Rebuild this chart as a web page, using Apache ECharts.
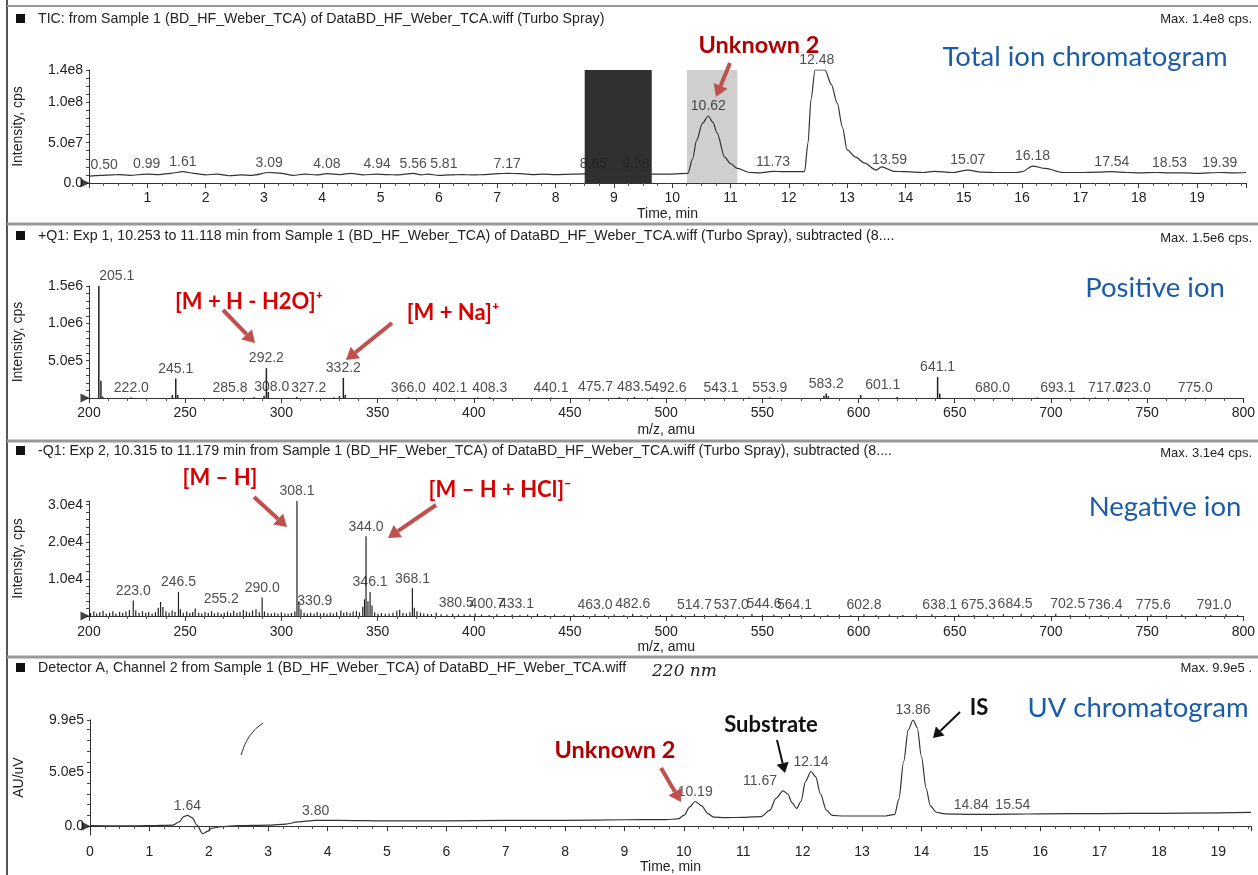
<!DOCTYPE html>
<html><head><meta charset="utf-8">
<script src="https://cdn.jsdelivr.net/npm/echarts@6/dist/echarts.min.js"></script>
<style>html,body{margin:0;padding:0;background:#fff}#c{width:1258px;height:875px}</style>
</head><body><div id="c"></div>
<script>
// ---------------- DATA ----------------
// TIC: [time (min), intensity (x1e7 cps)]
const ticData = [[0.00,0.85],[0.20,0.95],[0.40,1.00],[0.50,1.05],[0.70,0.95],[0.99,1.10],[1.20,1.05],[1.40,1.20],[1.61,1.40],[1.80,1.20],[2.00,1.00],[2.20,1.10],[2.40,0.90],[2.60,1.00],[2.80,0.95],[3.09,1.30],[3.30,1.20],[3.50,0.95],[3.70,1.10],[3.90,1.00],[4.08,1.15],[4.30,1.05],[4.50,1.20],[4.70,1.00],[4.94,1.10],[5.10,1.05],[5.30,1.00],[5.56,1.20],[5.70,1.00],[5.81,1.10],[6.00,0.95],[6.20,1.00],[6.40,1.05],[6.60,1.00],[6.80,1.05],[7.00,1.15],[7.17,1.20],[7.40,1.15],[7.60,1.05],[7.80,1.10],[8.00,1.05],[8.30,1.10],[8.65,1.15],[9.00,1.10],[9.38,1.20],[9.70,1.10],[10.00,1.10],[10.27,1.20],[10.35,3.00],[10.42,5.30],[10.52,7.40],[10.62,8.30],[10.70,7.50],[10.77,6.20],[10.90,3.20],[11.00,2.40],[11.12,1.80],[11.33,1.30],[11.50,1.25],[11.73,1.45],[11.90,1.40],[12.10,1.40],[12.27,1.40],[12.33,5.00],[12.38,10.30],[12.45,14.00],[12.55,14.00],[12.62,14.00],[12.73,12.20],[12.83,9.90],[12.92,6.90],[13.00,4.10],[13.15,3.20],[13.29,2.50],[13.50,1.60],[13.59,2.00],[13.80,1.45],[14.00,1.40],[14.30,1.30],[14.50,1.45],[14.80,1.30],[15.07,1.60],[15.30,1.35],[15.60,1.30],[15.90,1.30],[16.00,1.40],[16.18,2.10],[16.40,1.80],[16.70,1.30],[17.00,1.30],[17.30,1.35],[17.54,1.40],[17.80,1.30],[18.00,1.25],[18.30,1.30],[18.53,1.25],[18.80,1.25],[19.00,1.20],[19.39,1.30],[19.60,1.25],[19.84,1.30]];
const ticPeakLabels = [0.50,0.99,1.61,3.09,4.08,4.94,5.56,5.81,7.17,8.65,9.38,10.62,11.73,12.48,13.59,15.07,16.18,17.54,18.53,19.39];
const ticPeakHeights = [1.05,1.10,1.40,1.30,1.15,1.10,1.20,1.10,1.20,1.15,1.20,8.30,1.45,14.00,1.60,1.60,2.10,1.40,1.25,1.30];
const ticBackgroundRange = [8.50, 9.65];
const ticSampleRange = [10.253, 11.118];
const ticYLabels = {0:'0.0', 5:'5.0e7', 10:'1.0e8', 14:'1.4e8'};

// Positive ion spectrum: [m/z, intensity cps]
const posSpectrum = [[205.1,1500000],[206.2,230000],[207.1,20000],[222.0,8000],[243.3,40000],[245.1,260000],[246.1,40000],[285.8,10000],[291.0,30000],[292.2,400000],[293.2,80000],[308.0,15000],[327.2,9000],[330.2,25000],[332.2,270000],[333.2,40000],[366.0,8000],[402.1,7000],[408.3,10000],[440.1,6000],[475.7,12000],[483.5,15000],[492.6,8000],[543.1,6000],[553.9,6000],[582.0,30000],[583.2,60000],[584.3,25000],[601.1,40000],[620.0,15000],[641.1,280000],[642.2,60000],[680.0,5000],[693.1,6000],[717.0,6000],[723.0,6000],[775.0,5000]];
const posPeakLabels = [205.1,222.0,245.1,285.8,292.2,308.0,327.2,332.2,366.0,402.1,408.3,440.1,475.7,483.5,492.6,543.1,553.9,583.2,601.1,641.1,680.0,693.1,717.0,723.0,775.0];
const posYLabels = {500000:'5.0e5', 1000000:'1.0e6', 1500000:'1.5e6'};

// Negative ion spectrum: [m/z, intensity cps]
const negSpectrum = [[200.8,800],[202.5,1200],[204.0,700],[205.6,1000],[207.3,1400],[209.0,600],[210.7,900],[212.4,1300],[214.0,700],[215.9,1100],[217.5,800],[219.2,1200],[221.0,1600],[223.0,4200],[224.3,1500],[226.0,900],[227.8,1300],[229.5,800],[231.0,1100],[232.8,700],[234.5,1000],[236.0,2200],[237.2,3800],[238.4,2400],[240.0,1300],[241.6,900],[243.2,1500],[244.7,1100],[246.5,6500],[247.5,1800],[249.0,900],[250.8,1200],[252.4,800],[253.9,1100],[255.2,2000],[257.0,900],[258.6,700],[260.3,1100],[262.0,800],[263.7,1300],[265.2,700],[267.0,1000],[268.7,600],[270.3,900],[272.0,1200],[273.6,800],[275.2,1400],[276.9,900],[278.5,1100],[280.2,1600],[281.8,1200],[283.4,900],[285.0,1500],[286.8,1800],[288.5,1000],[290.0,5000],[291.2,1200],[293.0,800],[294.8,700],[296.5,900],[298.2,600],[300.0,1000],[301.8,700],[303.5,600],[305.2,800],[307.0,1200],[308.1,31000],[309.1,4000],[310.2,1800],[311.8,900],[313.5,700],[315.2,900],[317.0,600],[318.6,1100],[320.3,700],[322.0,800],[323.7,600],[325.4,900],[327.0,700],[328.7,1000],[330.9,1500],[332.4,900],[334.0,1100],[335.7,800],[337.3,1200],[339.0,1400],[340.6,1000],[342.3,2500],[343.2,4500],[344.0,21500],[345.0,4000],[346.1,6500],[347.1,2800],[348.5,1000],[350.2,600],[352.0,800],[354.0,600],[356.0,700],[358.0,900],[360.0,1400],[361.5,1700],[363.2,800],[365.0,700],[366.8,1000],[368.1,7500],[369.1,2200],[370.5,1300],[372.3,900],[374.0,700],[376.0,600],[378.0,500],[380.5,900],[383.0,500],[386.0,400],[389.0,600],[392.0,400],[395.0,500],[398.0,400],[400.7,700],[404.0,400],[408.0,300],[412.0,500],[416.0,300],[420.0,400],[424.0,300],[428.0,400],[433.1,600],[437.0,300],[442.0,400],[447.0,300],[452.0,400],[457.0,300],[463.0,500],[468.0,300],[473.0,400],[478.0,300],[482.6,600],[487.0,300],[492.0,400],[497.0,300],[503.0,400],[508.0,300],[514.7,500],[520.0,300],[526.0,400],[531.0,300],[537.0,500],[544.6,600],[550.0,300],[556.0,400],[564.1,500],[570.0,300],[577.0,400],[584.0,300],[590.0,400],[596.0,300],[602.8,500],[609.0,300],[616.0,400],[623.0,300],[630.0,400],[638.1,500],[645.0,300],[652.0,400],[660.0,300],[667.0,400],[675.3,500],[684.5,600],[691.0,300],[697.0,400],[702.5,600],[710.0,300],[718.0,400],[726.0,300],[736.4,500],[744.0,300],[752.0,400],[760.0,300],[768.0,400],[775.6,500],[783.0,300],[791.0,500],[797.0,300]];
const negPeakLabels = [223.0,246.5,255.2,290.0,308.1,330.9,344.0,346.1,368.1,380.5,400.7,433.1,463.0,482.6,514.7,537.0,544.6,564.1,602.8,638.1,675.3,684.5,702.5,736.4,775.6,791.0];
const negYLabels = {10000:'1.0e4', 20000:'2.0e4', 30000:'3.0e4'};

// UV chromatogram (220 nm): [time (min), AU/uV]
const uvData = [[0,5000],[0.5,3000],[1.0,5000],[1.4,10000],[1.5,40000],[1.58,90000],[1.64,100000],[1.72,80000],[1.80,10000],[1.90,-70000],[1.97,-50000],[2.05,-20000],[2.2,-5000],[2.5,5000],[3.0,10000],[3.3,20000],[3.5,40000],[3.8,55000],[4.2,55000],[5,50000],[6,50000],[7,55000],[8,55000],[9,60000],[9.7,62000],[9.9,68000],[10.0,100000],[10.1,180000],[10.19,230000],[10.3,190000],[10.4,120000],[10.5,85000],[10.7,80000],[11.0,82000],[11.3,90000],[11.45,150000],[11.55,260000],[11.67,330000],[11.75,300000],[11.82,220000],[11.9,165000],[11.97,230000],[12.05,420000],[12.14,510000],[12.22,460000],[12.3,300000],[12.4,150000],[12.5,100000],[12.7,95000],[13.0,95000],[13.4,95000],[13.55,110000],[13.62,250000],[13.7,600000],[13.78,900000],[13.86,990000],[13.93,920000],[14.0,650000],[14.08,350000],[14.15,190000],[14.25,130000],[14.4,115000],[14.84,110000],[15.54,112000],[16,115000],[17,118000],[18,120000],[19,125000],[19.55,128000]];
const uvPeakLabels = [1.64,3.80,10.19,11.67,12.14,13.86,14.84,15.54];
const uvYLabelValues = [0, 500000, 990000];
const uvYLabelTexts = ['0.0','5.0e5','9.9e5'];
const uvYTickValues = [0,100000,200000,300000,400000,500000,600000,700000,800000,900000,990000];

// ---------------- STYLE / LAYOUT ----------------
const FONT = 'Liberation Sans';
const ANN = 'Lato';
const INK = '#222';
// horizontal pixel nudges of crowded peak labels (label text -> px)
const nudge = {
  tic: {'0.50':-14,'5.81':16,'13.59':8},
  pos: {'205.1':18,'285.8':-24,'308.0':-25,'327.2':-25,'402.1':-28,'475.7':-24,'492.6':17,'543.1':-28,'601.1':22,'680.0':-20,'693.1':20,'717.0':22,'723.0':38},
  neg: {'255.2':26,'330.9':-26,'380.5':20,'400.7':12,'433.1':-21,'537.0':-6,'544.6':12,'564.1':5,'638.1':8,'675.3':-25,'684.5':-6,'702.5':12,'736.4':-16,'775.6':-43,'791.0':-12},
  uv: {'11.67':-23}
};

function interpAt(data, x){
  for (let i=1;i<data.length;i++){
    if (data[i][0] >= x){
      const a=data[i-1], b=data[i];
      return a[1] + (b[1]-a[1])*(x-a[0])/(b[0]-a[0]);
    }
  }
  return data[data.length-1][1];
}
function stickAt(spec, mz){
  let best = spec[0];
  spec.forEach(p=>{ if (Math.abs(p[0]-mz) < Math.abs(best[0]-mz)) best=p; });
  return best[1];
}
function labelItems(xs, ys, digits, nmap){
  return xs.map((x,i)=>{
    const t = x.toFixed(digits);
    return {value:[x, ys[i]], name:t, label:{offset:[nmap[t]||0, 0]}};
  });
}
function labelSeries(idx, items, z){
  return {type:'scatter', xAxisIndex:idx, yAxisIndex:idx, data:items, symbolSize:1, z:z||6,
    itemStyle:{color:'rgba(0,0,0,0)'}, silent:true,
    label:{show:true, position:'top', distance:2, formatter:p=>p.name, fontFamily:FONT, fontSize:14, color:INK}};
}
function marker(idx, x){
  return {type:'scatter', xAxisIndex:idx, yAxisIndex:idx, data:[[x,0]], symbol:'triangle', symbolRotate:-90,
    symbolSize:[9,9], symbolOffset:[-4,0], itemStyle:{color:'#111'}, silent:true, z:7};
}
function pick(map){ return v => { for (const k in map){ if (Math.abs(v-Number(k)) < 1e-6*Math.max(1,Math.abs(v))) return map[k]; } return ''; }; }

const ticLabelItems = labelItems(ticPeakLabels, ticPeakHeights, 2, nudge.tic);
const posLabelItems = labelItems(posPeakLabels, posPeakLabels.map(m=>stickAt(posSpectrum,m)), 1, nudge.pos);
const negLabelItems = labelItems(negPeakLabels, negPeakLabels.map(m=>stickAt(negSpectrum,m)), 1, nudge.neg);
const uvLabelItems = labelItems(uvPeakLabels, uvPeakLabels.map(t=>interpAt(uvData,t)), 2, nudge.uv);

const axisLineStyle = {lineStyle:{color:'#333', width:1}};
function xAx(idx, min, max, interval, fmt, name, nameGap, minorSplit, margin){
  return {type:'value', gridIndex:idx, min, max, interval, name, nameLocation:'middle', nameGap,
    nameTextStyle:{fontFamily:FONT, fontSize:14, color:INK},
    axisLine:axisLineStyle, axisTick:{length:5, lineStyle:{color:'#333'}},
    minorTick:{show:true, splitNumber:minorSplit, length:3, lineStyle:{color:'#555'}},
    splitLine:{show:false}, minorSplitLine:{show:false},
    axisLabel:{fontFamily:FONT, fontSize:14, color:INK, margin:margin||7, formatter:fmt, showMinLabel:true, showMaxLabel:true}};
}
function yAx(idx, min, max, interval, fmt, name){
  return {type:'value', gridIndex:idx, min, max, interval, name, nameLocation:'middle', nameGap:64,
    nameTextStyle:{fontFamily:FONT, fontSize:14, color:INK},
    axisLine:{show:true, lineStyle:{color:'#333', width:1}}, axisTick:{show:true, length:3, lineStyle:{color:'#444'}},
    splitLine:{show:false},
    axisLabel:{fontFamily:FONT, fontSize:14, color:INK, margin:6, formatter:fmt}};
}

const xAxes = [
  xAx(0, 0, 19.84, 1, v => (Number.isInteger(v) && v>0) ? String(v) : '', 'Time, min', 24, 4, 8),
  xAx(1, 200, 800, 50, v => String(v), 'm/z, amu', 25, 5, 8),
  xAx(2, 200, 800, 50, v => String(v), 'm/z, amu', 24, 5, 9),
  xAx(3, 0, 19.55, 1, v => Number.isInteger(v) ? String(v) : '', 'Time, min', 24, 4, 10)
];
const uvY = yAx(3, -83000, 990000, null, v => { const i = uvYLabelValues.indexOf(v); return i>=0 ? uvYLabelTexts[i] : ''; }, 'AU/uV');
delete uvY.interval;
uvY.axisLabel.customValues = uvYLabelValues;
uvY.axisTick.customValues = uvYTickValues;
const yAxes = [
  yAx(0, 0, 14, 1, pick(ticYLabels), 'Intensity, cps'),
  yAx(1, 0, 1500000, 100000, pick(posYLabels), 'Intensity, cps'),
  yAx(2, 0, 31000, 2000, pick(negYLabels), 'Intensity, cps'),
  uvY
];

// ---------------- DECORATION (graphic) ----------------
function txt(x, y, text, o){
  o = o||{};
  return {type:'text', x, y, z:50, silent:true, style:Object.assign({text, fontFamily:FONT, fontSize:13, fill:INK, align:'left', verticalAlign:'middle'}, o)};
}
function arrow(x1,y1,x2,y2,color,w,head){
  const a = Math.atan2(y2-y1, x2-x1), hl=head, hw=head*0.62;
  const bx = x2-hl*Math.cos(a), by = y2-hl*Math.sin(a), px=-Math.sin(a), py=Math.cos(a);
  return [
    {type:'line', z:50, silent:true, shape:{x1,y1,x2:bx,y2:by}, style:{stroke:color, lineWidth:w}},
    {type:'polygon', z:50, silent:true, shape:{points:[[x2,y2],[bx+px*hw,by+py*hw],[bx-px*hw,by-py*hw]]}, style:{fill:color}}
  ];
}
const RED_ARROW = '#c0504d';
const HEAD = 14.2;
const BLUE = {fontFamily:ANN, fontSize:27.5, fill:'#1b5ca8', align:'center'};
const RED = {fontFamily:ANN, fontSize:22, fontWeight:'bold', fill:'#d80000', align:'center'};
const graphics = [
  // frame and panel separators
  {type:'line', shape:{x1:7,y1:0,x2:7,y2:875}, style:{stroke:'#555', lineWidth:2}, silent:true},
  {type:'line', shape:{x1:7,y1:6,x2:1258,y2:6}, style:{stroke:'#999', lineWidth:2}, silent:true},
  {type:'line', shape:{x1:7,y1:224,x2:1258,y2:224}, style:{stroke:'#999', lineWidth:3}, silent:true},
  {type:'line', shape:{x1:7,y1:441,x2:1258,y2:441}, style:{stroke:'#999', lineWidth:3}, silent:true},
  {type:'line', shape:{x1:7,y1:657,x2:1258,y2:657}, style:{stroke:'#999', lineWidth:3}, silent:true},
  // header squares
  {type:'rect', shape:{x:16,y:14,width:9,height:9}, style:{fill:'#111'}, silent:true},
  {type:'rect', shape:{x:16,y:231,width:9,height:9}, style:{fill:'#111'}, silent:true},
  {type:'rect', shape:{x:16,y:446,width:9,height:9}, style:{fill:'#111'}, silent:true},
  {type:'rect', shape:{x:16,y:663,width:9,height:9}, style:{fill:'#111'}, silent:true},
  // headers
  txt(38, 19, 'TIC: from Sample 1 (BD_HF_Weber_TCA) of DataBD_HF_Weber_TCA.wiff (Turbo Spray)', {fontSize:HEAD}),
  txt(1252, 19, 'Max. 1.4e8 cps.', {align:'right'}),
  txt(38, 236, '+Q1: Exp 1, 10.253 to 11.118 min from Sample 1 (BD_HF_Weber_TCA) of DataBD_HF_Weber_TCA.wiff (Turbo Spray), subtracted (8....', {fontSize:HEAD}),
  txt(1252, 238, 'Max. 1.5e6 cps.', {align:'right'}),
  txt(38, 451, '-Q1: Exp 2, 10.315 to 11.179 min from Sample 1 (BD_HF_Weber_TCA) of DataBD_HF_Weber_TCA.wiff (Turbo Spray), subtracted (8....', {fontSize:HEAD}),
  txt(1252, 453, 'Max. 3.1e4 cps.', {align:'right'}),
  txt(38, 668, 'Detector A, Channel 2 from Sample 1 (BD_HF_Weber_TCA) of DataBD_HF_Weber_TCA.wiff', {fontSize:HEAD}),
  txt(652, 672, '220 nm', {fontFamily:'DejaVu Serif', fontStyle:'italic', fontSize:17}),
  txt(1252, 668, 'Max. 9.9e5 .', {align:'right'}),
  // blue panel titles
  txt(1085, 57, 'Total ion chromatogram', BLUE),
  txt(1155, 288, 'Positive ion', BLUE),
  txt(1165, 507, 'Negative ion', BLUE),
  txt(1138, 708, 'UV chromatogram', BLUE),
  // red / black annotations
  txt(759, 45, 'Unknown 2', Object.assign({}, RED, {fontSize:23.5, fill:'#b00000'})),
  txt(249, 302, '[M + H - H2O]⁺', RED),
  txt(453, 313, '[M + Na]⁺', RED),
  txt(220, 478, '[M – H]', RED),
  txt(500, 490, '[M – H + HCl]⁻', RED),
  txt(615, 750, 'Unknown 2', Object.assign({}, RED, {fontSize:23.5, fill:'#b00000'})),
  txt(771, 725, 'Substrate', Object.assign({}, RED, {fill:'#111'})),
  txt(979, 708, 'IS', Object.assign({}, RED, {fill:'#111'})),
  // pen stroke on the UV panel
  {type:'bezierCurve', silent:true, shape:{x1:241,y1:755,x2:263,y2:723,cpx1:247,cpy1:733}, style:{stroke:'#333', lineWidth:1, fill:null}}
].concat(
  arrow(730,63,716,97,RED_ARROW,4,12),
  arrow(223,310,255,343,RED_ARROW,4,12),
  arrow(392,323,346,360,RED_ARROW,4,12),
  arrow(254,497,287,527,RED_ARROW,4,12),
  arrow(436,505,388,538,RED_ARROW,4,12),
  arrow(661,768,681,802,RED_ARROW,4,12),
  arrow(777,740,785,773,'#111',2,10),
  arrow(960,712,933,738,'#111',2,10)
);

// ---------------- CHART ----------------
const chart = echarts.init(document.getElementById('c'), null, {renderer:'canvas'});
chart.setOption({
  animation:false,
  backgroundColor:'#fff',
  textStyle:{fontFamily:FONT},
  grid:[
    {left:89, right:12, top:70, height:113},
    {left:89, right:14, top:286, height:112},
    {left:89, right:14, top:501, height:115},
    {left:90, right:7, top:720, height:116}
  ],
  xAxis:xAxes,
  yAxis:yAxes,
  series:[
    {type:'line', xAxisIndex:0, yAxisIndex:0, data:[[0,0]], showSymbol:false, lineStyle:{width:0}, z:1, silent:true,
      markArea:{silent:true, itemStyle:{color:'#cfcfcf'}, data:[[{xAxis:ticSampleRange[0], yAxis:0},{xAxis:ticSampleRange[1], yAxis:14}]]}},
    {type:'line', xAxisIndex:0, yAxisIndex:0, data:ticData, showSymbol:false, smooth:0.3, smoothMonotone:'x',
      lineStyle:{color:'#333', width:1.2}, z:3, silent:true},
    labelSeries(0, ticLabelItems, 4),
    {type:'line', xAxisIndex:0, yAxisIndex:0, data:[[0,0]], showSymbol:false, lineStyle:{width:0}, z:5, silent:true,
      markArea:{silent:true, itemStyle:{color:'#303030'}, data:[[{xAxis:ticBackgroundRange[0], yAxis:0},{xAxis:ticBackgroundRange[1], yAxis:14}]]}},
    marker(0, 0),
    {type:'bar', xAxisIndex:1, yAxisIndex:1, data:posSpectrum, barWidth:1.5, itemStyle:{color:'#222'}, silent:true},
    labelSeries(1, posLabelItems),
    marker(1, 200),
    {type:'bar', xAxisIndex:2, yAxisIndex:2, data:negSpectrum, barWidth:1.2, itemStyle:{color:'#222'}, silent:true},
    labelSeries(2, negLabelItems),
    marker(2, 200),
    {type:'line', xAxisIndex:3, yAxisIndex:3, data:uvData, showSymbol:false, smooth:0.3, smoothMonotone:'x',
      lineStyle:{color:'#333', width:1.2}, z:3, silent:true},
    labelSeries(3, uvLabelItems),
    marker(3, 0)
  ],
  graphic:graphics
});
</script>
</body></html>
